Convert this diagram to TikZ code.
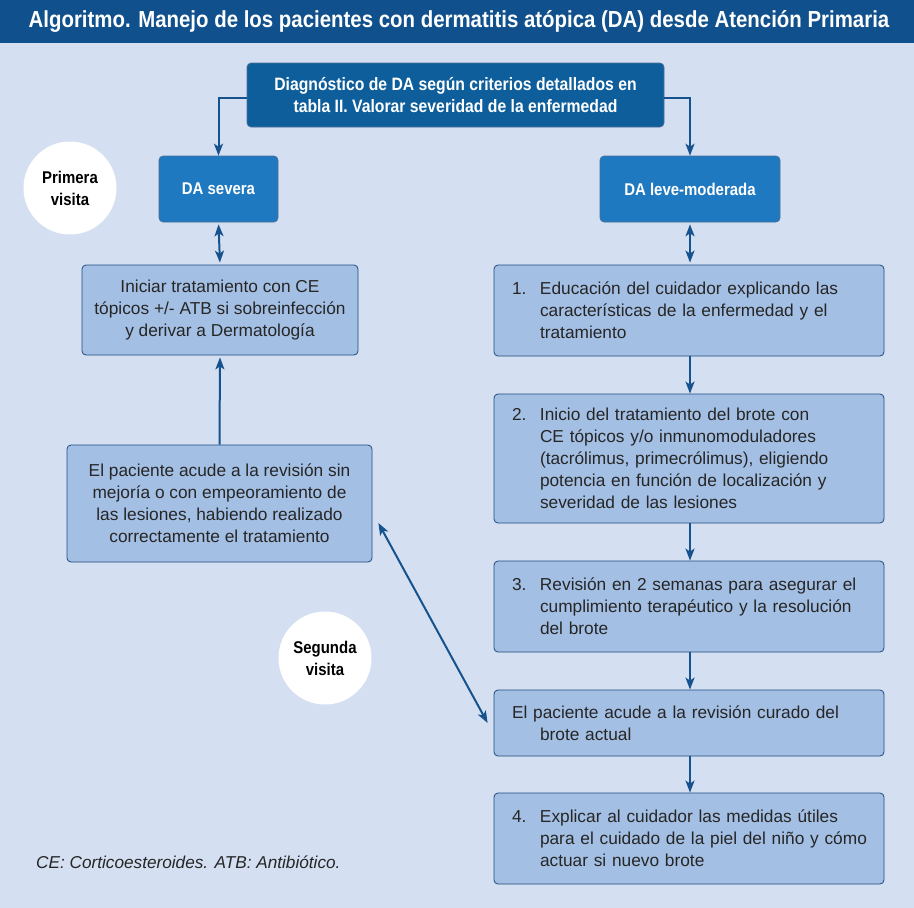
\documentclass[tikz,border=0pt]{standalone}
\usepackage{fontspec}
\setmainfont{Liberation Sans}
\newfontfamily\cond[FakeStretch=0.88]{Liberation Sans}
\usetikzlibrary{arrows.meta,calc}
\definecolor{titlebg}{RGB}{16,80,140}
\definecolor{pagebg}{RGB}{212,223,241}
\definecolor{topbox}{RGB}{14,94,155}
\definecolor{dabox}{RGB}{31,121,192}
\definecolor{lightbox}{RGB}{164,191,228}
\definecolor{edge}{RGB}{30,75,125}
\definecolor{arrowc}{RGB}{22,82,142}
\tikzset{
  mytip/.tip={Stealth[length=12pt,width=9pt,inset=3pt]},
  body/.style={font=\fontsize{17.3}{22}\selectfont, text=black!85},
  lbox/.style={body, draw=edge, line width=0.8pt, fill=lightbox, rounded corners=4pt, align=center, inner sep=0pt},
  rbox/.style={body, draw=edge, line width=0.8pt, fill=lightbox, rounded corners=4pt, align=left, inner xsep=15pt, inner ysep=0pt, text width=360pt, minimum width=390pt},
  dbox/.style={draw=edge!80, line width=0.6pt, fill=dabox, rounded corners=4pt, text=white, font=\cond\bfseries\fontsize{17}{22}\selectfont, align=center, inner sep=0pt},
  visit/.style={circle, fill=white, minimum size=93pt, inner sep=0pt, align=center, font=\cond\bfseries\fontsize{17}{22}\selectfont},
  conn/.style={draw=arrowc, line width=2pt, -mytip},
  dconn/.style={draw=arrowc, line width=2pt, mytip-mytip}
}
\newcommand{\ind}{\hspace*{31pt}}
\newcommand{\num}[1]{\hspace*{3pt}\makebox[28pt][l]{#1}}
\begin{document}
\begin{tikzpicture}[x=1pt,y=-1pt]
\fill[pagebg] (0,0) rectangle (914,908);
\useasboundingbox (0,0) rectangle (914,908);
\fill[titlebg] (0,0) rectangle (914,43);
\node[text=white, font=\cond\bfseries\fontsize{23.2}{26}\selectfont] (title) at (459,21) {Algoritmo. Manejo de los pacientes con dermatitis atópica (DA) desde Atención Primaria};

\node[dbox, fill=topbox, minimum width=417pt, minimum height=64pt, font=\cond\bfseries\fontsize{17.9}{22}\selectfont] (top) at (455.5,95) {Diagnóstico de DA según criterios detallados en\\tabla II. Valorar severidad de la enfermedad};

\node[dbox, minimum width=119pt, minimum height=66pt] (sev) at (218.5,189) {DA severa};
\node[dbox, minimum width=180pt, minimum height=66pt] (leve) at (690,189) {DA leve-moderada};

\node[visit] (v1) at (70,188) {Primera\\visita};
\node[visit] (v2) at (325,658) {Segunda\\visita};

\node[lbox, minimum width=276pt, minimum height=90pt] (ini) at (220,310) {Iniciar tratamiento con CE\\tópicos +/- ATB si sobreinfección\\y derivar a Dermatología};
\node[lbox, minimum width=305pt, minimum height=117pt] (pac) at (219.5,503.5) {El paciente acude a la revisión sin\\mejoría o con empeoramiento de\\las lesiones, habiendo realizado\\correctamente el tratamiento};

\node[rbox, minimum height=91pt] (r1) at (689,310.5) {\num{1.}Educación del cuidador explicando las\\\ind características de la enfermedad y el\\\ind tratamiento};
\node[rbox, minimum height=129pt] (r2) at (689,458.5) {\num{2.}Inicio del tratamiento del brote con\\\ind CE tópicos y/o inmunomoduladores\\\ind (tacrólimus, primecrólimus), eligiendo\\\ind potencia en función de localización y\\\ind severidad de las lesiones};
\node[rbox, minimum height=91pt] (r3) at (689,606.5) {\num{3.}Revisión en 2 semanas para asegurar el\\\ind cumplimiento terapéutico y la resolución\\\ind del brote};
\node[rbox, minimum height=66pt] (cur) at (689,723) {\hspace*{3pt}El paciente acude a la revisión curado del\\\ind brote actual};
\node[rbox, minimum height=91pt] (r4) at (689,838.5) {\num{4.}Explicar al cuidador las medidas útiles\\\ind para el cuidado de la piel del niño y cómo\\\ind actuar si nuevo brote};

\node[anchor=west, font=\itshape\fontsize{17.2}{20}\selectfont, text=black!85, inner sep=0pt] (foot) at (36,862) {CE: Corticoesteroides. ATB: Antibiótico.};

% connectors
\draw[conn] ([yshift=-3pt]top.west) -| (sev.north);
\draw[conn] ([yshift=-3pt]top.east) -| (leve.north);
\draw[dconn, shorten <=2pt, shorten >=2pt] (sev.south) -- (ini.north);
\draw[dconn, shorten <=2pt, shorten >=2pt] (leve.south) -- (leve.south |- r1.north);
\draw[conn, shorten >=2pt] (pac.north) -- (ini.south);
\draw[conn] (r1.south -| leve.south) -- (r2.north -| leve.south);
\draw[conn] (r2.south -| leve.south) -- (r3.north -| leve.south);
\draw[conn] (r3.south -| leve.south) -- (cur.north -| leve.south);
\draw[conn] (cur.south -| leve.south) -- (r4.north -| leve.south);
\draw[dconn] ([xshift=6pt,yshift=-19.5pt]pac.east) -- ([xshift=-6pt]cur.west);
\end{tikzpicture}
\end{document}
